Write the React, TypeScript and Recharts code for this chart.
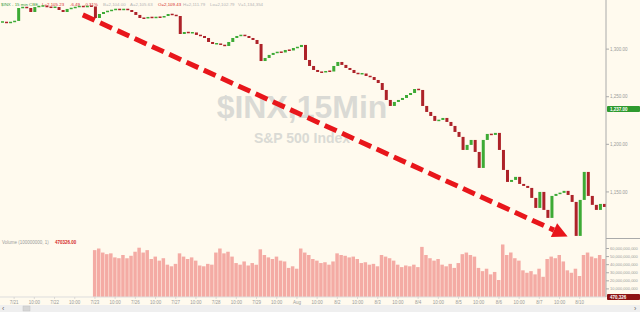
import React from 'react';
import { ComposedChart, Bar, XAxis, YAxis, ReferenceLine } from 'recharts';

// ---- data ----
const closes = [
  1328.5, 1327.5, 1328.5, 1329.6, 1343.2, 1344.2, 1343.2, 1339.0, 1344.2, 1345.3,
  1345.3, 1344.2, 1343.7, 1344.2, 1341.1, 1339.0, 1342.2, 1343.2, 1344.2, 1345.3,
  1344.2, 1345.3, 1344.8, 1332.7, 1336.9, 1339.0, 1340.1, 1341.1, 1342.2, 1341.1,
  1342.2, 1341.1, 1339.0, 1335.9, 1332.7, 1332.2, 1333.8, 1332.7, 1333.8, 1333.2,
  1334.8, 1336.9, 1335.9, 1334.8, 1315.9, 1318.0, 1316.9, 1317.5, 1314.9, 1313.8,
  1311.7, 1307.5, 1305.4, 1305.9, 1304.4, 1303.3, 1307.5, 1311.7, 1313.8, 1314.9,
  1313.8, 1311.7, 1309.6, 1305.4, 1287.5, 1290.7, 1293.9, 1296.0, 1297.0, 1296.5,
  1299.1, 1298.6, 1301.2, 1302.2, 1304.4, 1288.6, 1282.3, 1278.1, 1276.0, 1275.5,
  1277.0, 1276.5, 1282.3, 1286.5, 1283.4, 1280.2, 1278.1, 1274.9, 1273.9, 1274.4,
  1271.8, 1270.7, 1267.6, 1264.4, 1257.1, 1246.6, 1240.3, 1244.5, 1246.6, 1248.7,
  1251.8, 1253.9, 1258.1, 1257.1, 1240.3, 1234.0, 1229.8, 1224.6, 1225.6, 1227.7,
  1223.5, 1219.3, 1213.0, 1207.8, 1194.1, 1199.4, 1204.6, 1192.0, 1175.2, 1204.6,
  1210.9, 1209.9, 1212.0, 1194.1, 1173.1, 1160.5, 1162.6, 1165.8, 1158.4, 1156.3,
  1154.2, 1143.7, 1133.2, 1150.0, 1131.1, 1122.7, 1145.8, 1147.9, 1149.0, 1151.1,
  1146.8, 1139.5, 1103.8, 1141.6, 1171.0, 1145.8, 1136.4, 1131.1, 1137.4, 1134.2,
];

// volume in billions (null = no volume recorded)
const volumes: (number | null)[] = [
  null, null, null, null, null, null, null, null, null, null,
  null, null, null, null, null, null, null, null, null, null,
  null, null, null, 58, 60, 55, 53, 54, 49, 48,
  52, 48, 51, 56, 61, 55, 58, 47, 50, 45,
  48, 40, 38, 41, 54, 50, 47, 49, 45, 39,
  38, 41, 40, 55, 60, 54, 56, 50, 42, 40,
  44, 39, 42, 40, 59, 52, 49, 47, 50, 45,
  44, 36, 38, 35, 60, 55, 52, 47, 45, 42,
  43, 40, 44, 54, 52, 51, 49, 50, 47, 42,
  43, 40, 41, 38, 52, 50, 48, 45, 40, 37,
  39, 38, 40, 37, 62, 52, 48, 45, 47, 40,
  38, 41, 36, 42, 53, 55, 52, 50, 36, 32,
  35, 28, 31, 21, 65, 52, 55, 48, 45, 33,
  30, 32, 28, 35, 25, 47, 50, 48, 52, 44,
  33, 30, 35, 26, 52, 55, 50, 48, 52, 47,
];

const xLabels = [
  '7/21', '10:00', '7/22', '10:00', '7/23', '10:00', '7/26', '10:00', '7/27', '10:00',
  '7/28', '10:00', '7/29', '10:00', 'Aug', '10:00', '8/2', '10:00', '8/3', '10:00',
  '8/4', '10:00', '8/5', '10:00', '8/6', '10:00', '8/7', '10:00', '8/10',
];
const firstLabelIndex = 3;
const labelStep = 5;

const priceTicks = [1150, 1200, 1250, 1300];
const priceDomain = [1101.6, 1351.6];
const volumeTicks = [10, 20, 30, 40, 50, 60];
const volumeDomain = [0, 73];
const lastPrice = 1237;
const lastVolume = 470326;
const arrowStart = { i: 20, price: 1336 };
const arrowEnd = { i: 140, price: 1103.3 };

const headerItems = [
  { text: '$INX - 15 min  CBE', color: '#3c9a3c', x: 1 },
  { text: 'L=2,105.23', color: '#d42a2a', x: 42 },
  { text: '-6.49', color: '#d42a2a', x: 70 },
  { text: '-0.31%', color: '#d42a2a', x: 84 },
  { text: 'B=2,104.00', color: '#b4b4b4', x: 103 },
  { text: 'A=2,105.63', color: '#b4b4b4', x: 130 },
  { text: 'O=2,109.43', color: '#d42a2a', x: 158 },
  { text: 'H=2,111.79', color: '#b4b4b4', x: 183 },
  { text: 'Lo=2,102.79', color: '#b4b4b4', x: 210 },
  { text: 'V=1,134,354', color: '#b4b4b4', x: 238 },
];

// ---- styling ----
const BG = '#fffaee';
const UP = '#3daa35';
const DOWN = '#ad2229';
const VOL = '#f4aba4';
const ARROW = '#e8161b';
const AXIS = '#aaaaaa';
const TXT = '#9a9a9a';
const FONT = '"Liberation Sans", Arial, sans-serif';

const data = closes.map((c, i) => {
  const o = i === 0 ? c : closes[i - 1];
  return { i, body: [Math.min(o, c), Math.max(o, c)], up: c >= o, vol: volumes[i] };
});

const fmtPrice = (v: number) =>
  v.toLocaleString('en-US', { minimumFractionDigits: 2, maximumFractionDigits: 2 });
const fmtVol = (v: number) => `${v},000,000,000`;

const Candle = (p: any) => {
  if (p.x == null || p.y == null) return <g />;
  const h = Math.abs(p.height || 0);
  const top = (p.height || 0) < 0 ? p.y + p.height : p.y;
  const hh = Math.max(1.5, h);
  const yy = h < 1.5 ? top - (1.5 - h) / 2 : top;
  return <rect x={p.x} y={yy} width={p.width} height={hh} fill={p.payload.up ? UP : DOWN} />;
};

const Arrow = (p: any) => {
  const { x1, y1, x2, y2 } = p;
  if ([x1, y1, x2, y2].some((v) => v == null || isNaN(v))) return <g />;
  const dx = x2 - x1;
  const dy = y2 - y1;
  const len = Math.hypot(dx, dy);
  const ux = dx / len;
  const uy = dy / len;
  const hl = 15;
  const hw = 7.5;
  const bx = x2 - ux * hl;
  const by = y2 - uy * hl;
  return (
    <g>
      <line x1={x1} y1={y1} x2={bx} y2={by} stroke={ARROW} strokeWidth={5} strokeDasharray="13 6" />
      <polygon
        points={`${x2},${y2} ${bx - uy * hw},${by + ux * hw} ${bx + uy * hw},${by - ux * hw}`}
        fill={ARROW}
      />
    </g>
  );
};

const SideLabel = (color: string, text: string) => (props: any) => {
  const vb = props.viewBox || {};
  const x = (vb.x || 0) + (vb.width || 0) + 1;
  const y = vb.y || 0;
  return (
    <g>
      <rect x={x} y={y - 3} width={33} height={6} fill={color} rx={1} />
      <text x={x + 3} y={y + 1.6} fontSize={4.5} fill="#ffffff" fontFamily={FONT} fontWeight="bold">
        {text}
      </text>
    </g>
  );
};

const XTick = (p: any) => {
  const idx = Number(p.payload?.value);
  const k = (idx - firstLabelIndex) / labelStep;
  if (idx < firstLabelIndex || !Number.isInteger(k) || k >= xLabels.length) return <g />;
  return (
    <g>
      <line x1={p.x} x2={p.x} y1={p.y} y2={p.y + 2} stroke="#c8c8c8" strokeWidth={0.6} />
      <text x={p.x} y={p.y + 6.5} textAnchor="middle" fontSize={4.5} fill={TXT} fontFamily={FONT}>
        {xLabels[k]}
      </text>
    </g>
  );
};

export default function App() {
  return (
    <div
      style={{
        position: 'fixed',
        left: 0,
        top: 0,
        width: 640,
        height: 312,
        background: BG,
        overflow: 'hidden',
        fontFamily: FONT,
      }}
    >
      {/* background texts: watermark and headers */}
      <svg width={640} height={312} style={{ position: 'absolute', left: 0, top: 0 }}>
        <text x={302} y={118} textAnchor="middle" fontSize={32} fontWeight="bold" fill="#dadad5" fontFamily={FONT}>
          $INX,15Min
        </text>
        <text x={302} y={143} textAnchor="middle" fontSize={14} fontWeight="bold" fill="#dadad5" fontFamily={FONT}>
          S&amp;P 500 Index
        </text>
        {headerItems.map((h) => (
          <text key={h.x} x={h.x} y={5.6} fontSize={4.4} fill={h.color} fontFamily={FONT}>
            {h.text}
          </text>
        ))}
        <text x={2} y={243.5} fontSize={4.5} fill={TXT} fontFamily={FONT}>
          Volume (100000000, 1)
        </text>
        <text x={55} y={243.5} fontSize={4.5} fill="#d42a2a" fontWeight="bold" fontFamily={FONT}>
          {`${lastVolume}.00`}
        </text>
      </svg>

      {/* price panel */}
      <div style={{ position: 'absolute', left: 0, top: 0 }}>
        <ComposedChart width={640} height={238} data={data} margin={{ top: 0, right: 0, left: 0, bottom: 0 }}>
          <XAxis dataKey="i" type="category" hide />
          <YAxis
            orientation="right"
            width={34}
            domain={priceDomain}
            allowDataOverflow
            ticks={priceTicks}
            interval={0}
            tickFormatter={fmtPrice}
            tick={{ fontSize: 4.5, fill: TXT, fontFamily: FONT }}
            tickSize={3}
            tickMargin={1}
            tickLine={{ stroke: AXIS }}
            axisLine={{ stroke: AXIS }}
          />
          <Bar dataKey="body" barSize={3} shape={Candle} isAnimationActive={false} />
          <ReferenceLine
            segment={[
              { x: arrowStart.i, y: arrowStart.price },
              { x: arrowEnd.i, y: arrowEnd.price },
            ]}
            ifOverflow="visible"
            shape={Arrow}
          />
          <ReferenceLine
            y={lastPrice}
            stroke="none"
            ifOverflow="visible"
            label={SideLabel('#2e9a2e', fmtPrice(lastPrice))}
          />
        </ComposedChart>
      </div>

      {/* volume panel */}
      <div style={{ position: 'absolute', left: 0, top: 238 }}>
        <ComposedChart width={640} height={67} data={data} margin={{ top: 0, right: 0, left: 0, bottom: 0 }}>
          <XAxis
            dataKey="i"
            type="category"
            height={8}
            interval={0}
            tickSize={0}
            tickMargin={0}
            tickLine={false}
            axisLine={{ stroke: '#dddddd' }}
            tick={XTick}
          />
          <YAxis
            orientation="right"
            width={34}
            domain={volumeDomain}
            allowDataOverflow
            ticks={volumeTicks}
            interval={0}
            tickFormatter={fmtVol}
            tick={{ fontSize: 4, fill: TXT, fontFamily: FONT }}
            tickSize={3}
            tickMargin={1}
            tickLine={{ stroke: AXIS }}
            axisLine={{ stroke: AXIS }}
          />
          <Bar dataKey="vol" barSize={3.5} fill={VOL} isAnimationActive={false} />
          <ReferenceLine
            y={lastVolume / 1e9}
            stroke="none"
            ifOverflow="visible"
            label={SideLabel('#8e1414', lastVolume.toLocaleString('en-US'))}
          />
        </ComposedChart>
      </div>

      {/* overlay: panel divider and scrollbar */}
      <svg width={640} height={312} style={{ position: 'absolute', left: 0, top: 0, pointerEvents: 'none' }}>
        <line x1={606} x2={640} y1={238.5} y2={238.5} stroke={AXIS} strokeWidth={1} />
        <rect x={0} y={305} width={640} height={7} fill="#efefef" />
        <rect x={23} y={306} width={7} height={5} fill="#d6d6d6" stroke="#c4c4c4" strokeWidth={0.5} />
        <text x={2} y={311} fontSize={7} fill="#666" fontFamily={FONT}>‹</text>
        <text x={634} y={311} fontSize={7} fill="#666" fontFamily={FONT}>›</text>
      </svg>
    </div>
  );
}
